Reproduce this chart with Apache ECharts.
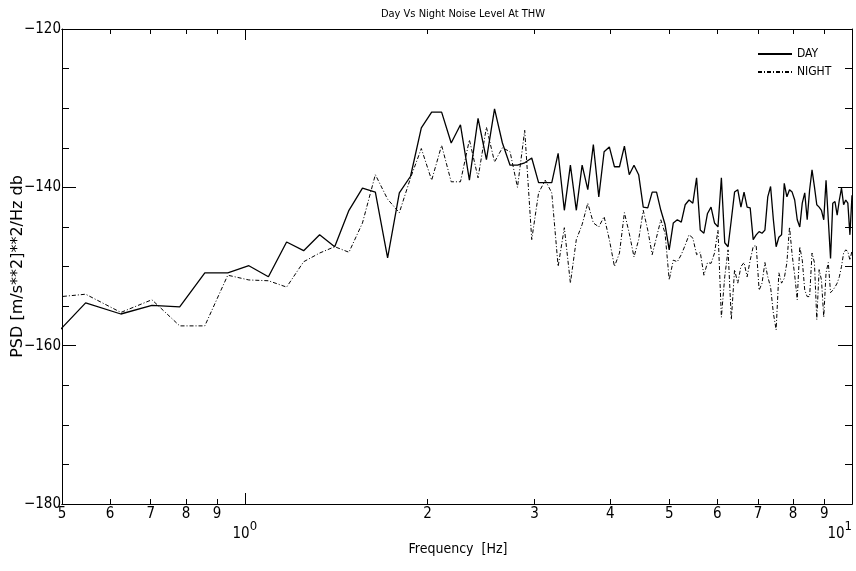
<!DOCTYPE html>
<html>
<head>
<meta charset="utf-8">
<script src="https://cdn.jsdelivr.net/npm/echarts@6/dist/echarts.min.js"></script>
<style>
  html, body { margin: 0; padding: 0; background: #fff; }
  #chart { width: 856px; height: 571px; }
</style>
</head>
<body>
<div id="chart"></div>
<script>
// spectrum bins: frequency = bin * binHz, first bin is 6
var binHz = 0.078125;
var firstBin = 6;

// PSD in dB, DAY
var dayDb = [
  -160.0, -154.6, -156.0, -154.9, -155.1, -150.8, -150.8, -149.9, -151.3, -146.9,
  -148.0, -146.0, -147.5, -142.9, -140.1, -140.6, -148.9, -140.7, -138.6, -132.5,
  -130.5, -130.5, -134.4, -132.1, -139.1, -131.3, -136.5, -130.1, -134.4, -137.2,
  -137.2, -136.9, -136.3, -139.4, -139.4, -139.4, -135.7, -142.9, -137.2, -142.9,
  -137.2, -140.3, -134.6, -141.2, -135.5, -134.9, -137.4, -137.4, -134.8, -138.4,
  -137.2, -138.4, -142.5, -142.6, -140.6, -140.6, -142.9, -144.7, -147.9, -144.5,
  -144.1, -144.4, -142.2, -141.6, -142.0, -138.8, -145.4, -145.8, -143.3, -142.5,
  -144.5, -145.0, -138.8, -147.0, -147.5, -144.1, -140.6, -140.3, -142.5, -140.6,
  -142.5, -142.6, -146.6, -146.0, -145.6, -145.8, -145.4, -141.2, -139.9, -144.1,
  -147.5, -146.3, -146.0, -139.5, -141.2, -140.3, -140.6, -141.6, -144.1, -145.0,
  -142.0, -140.7, -144.1, -140.3, -137.8, -139.9, -142.2, -142.5, -142.9, -144.1,
  -139.1, -144.1, -149.0, -142.0, -141.8, -143.5, -141.6, -140.1, -142.2, -141.6,
  -142.0, -146.0, -141.0
];

// PSD in dB, NIGHT
var nightDb = [
  -154.0, -153.5, -155.8, -154.2, -157.5, -157.5, -151.1, -151.7, -151.8, -152.6,
  -149.4, -148.3, -147.5, -148.2, -144.5, -138.4, -141.5, -143.2, -138.8, -135.1,
  -139.1, -134.7, -139.3, -139.3, -134.0, -138.8, -132.4, -136.8, -135.0, -135.5,
  -140.0, -132.8, -146.6, -140.7, -139.1, -140.7, -150.0, -145.1, -152.1, -146.6,
  -144.7, -142.0, -144.5, -145.0, -143.7, -146.6, -150.0, -148.3, -143.2, -145.8,
  -148.8, -146.6, -142.9, -145.4, -148.5, -146.3, -144.1, -145.8, -151.7, -149.2,
  -149.4, -148.5, -147.3, -146.0, -146.4, -148.5, -148.2, -151.1, -149.5, -149.6,
  -148.3, -145.4, -156.4, -151.3, -147.9, -156.7, -150.4, -152.1, -150.0, -149.5,
  -151.3, -149.2, -147.5, -147.3, -153.0, -152.1, -149.5, -151.3, -152.6, -155.9,
  -158.0, -150.8, -152.1, -151.5, -149.5, -145.0, -148.5, -151.1, -154.2, -147.5,
  -149.2, -153.0, -153.8, -153.8, -148.3, -149.5, -156.7, -150.4, -151.7, -156.4,
  -150.8, -149.5, -153.3, -153.0, -152.6, -152.1, -151.3, -150.0, -148.3, -147.9,
  -148.1, -149.2, -148.0
];

var minorTickHz = [0.5, 0.6, 0.7, 0.8, 0.9, 2, 3, 4, 5, 6, 7, 8, 9];
var decadeTickHz = [1, 10];
var xMinHz = 0.5, xMaxHz = 10;
var yMin = -180, yMax = -120, yStep = 20;

var font = "'DejaVu Sans Condensed', 'Liberation Sans Narrow', 'Liberation Sans', sans-serif";
var wideFont = "'DejaVu Sans', 'Liberation Sans', sans-serif";
var lg = Math.log10;

function toPoints(vals) {
  return vals.map(function (v, i) { return [lg((firstBin + i) * binHz), v]; });
}

function xAxisDef(pos, ticksHz, tickLen, withLabels, decade) {
  var vals = ticksHz.map(lg);
  return {
    type: 'value',
    position: pos,
    min: lg(xMinHz),
    max: lg(xMaxHz),
    axisLine: { onZero: false, lineStyle: { color: '#000', width: 1 } },
    splitLine: { show: false },
    axisTick: { inside: true, length: tickLen, customValues: vals, lineStyle: { color: '#000' } },
    axisLabel: {
      show: withLabels,
      customValues: vals,
      color: '#000',
      fontFamily: font,
      fontSize: 15,
      margin: decade ? 16 : 3,
      alignMaxLabel: decade ? 'right' : null,
      formatter: decade
        ? function (v) { return '{b|10}{s|' + Math.round(v) + '}'; }
        : function (v) { var f = Math.pow(10, v); return String(Math.round(f < 1 ? f * 10 : f)); },
      rich: {
        b: { fontFamily: font, fontSize: 15, color: '#000', verticalAlign: 'bottom' },
        s: { fontFamily: font, fontSize: 13, color: '#000', verticalAlign: 'top', padding: [0, 0, 9, 0] }
      }
    }
  };
}

function yAxisDef(pos, withLabels) {
  return {
    type: 'value',
    position: pos,
    min: yMin,
    max: yMax,
    interval: yStep,
    name: withLabels ? 'PSD [m/s**2]**2/Hz db' : '',
    nameLocation: 'middle',
    nameGap: 36,
    nameRotate: 90,
    nameMoveOverlap: false,
    nameTextStyle: { color: '#000', fontFamily: wideFont, fontSize: 16 },
    axisLine: { onZero: false, lineStyle: { color: '#000', width: 1 } },
    splitLine: { show: false },
    axisTick: { inside: true, length: 14, lineStyle: { color: '#000' } },
    minorTick: { show: true, splitNumber: 4, length: 7, lineStyle: { color: '#000' } },
    axisLabel: {
      show: withLabels,
      color: '#000',
      fontFamily: font,
      fontSize: 15,
      margin: 1,
      formatter: function (v) { return String(v).replace('-', '\u2212'); }
    }
  };
}

var chart = echarts.init(document.getElementById('chart'));
chart.setOption({
  animation: false,
  backgroundColor: '#fff',
  title: {
    text: 'Day Vs Night Noise Level At THW',
    left: 458,
    textAlign: 'center',
    top: 4,
    textStyle: { color: '#000', fontFamily: font, fontSize: 11, fontWeight: 'normal' }
  },
  legend: {
    data: ['DAY', 'NIGHT'],
    orient: 'vertical',
    left: 752,
    top: 43,
    itemWidth: 34,
    itemHeight: 10,
    itemGap: 6,
    itemStyle: { opacity: 0 },
    textStyle: { color: '#000', fontFamily: font, fontSize: 12 }
  },
  grid: { left: 62, right: 4, top: 29, bottom: 67, containLabel: false, outerBoundsMode: 'none' },
  xAxis: [
    xAxisDef('bottom', minorTickHz, 5, true, false),
    xAxisDef('bottom', decadeTickHz, 11, true, true),
    xAxisDef('top', minorTickHz, 5, false, false),
    xAxisDef('top', decadeTickHz, 11, false, true)
  ],
  yAxis: [yAxisDef('left', true), yAxisDef('right', false)],
  graphic: [{
    type: 'text',
    x: 458,
    y: 542,
    style: { text: 'Frequency  [Hz]', fill: '#000', font: '14px ' + font, textAlign: 'center' }
  }],
  series: [
    {
      name: 'DAY',
      type: 'line',
      symbol: 'none',
      xAxisIndex: 0,
      yAxisIndex: 0,
      data: toPoints(dayDb),
      lineStyle: { color: '#000', width: 1.3 },
      itemStyle: { color: '#000' }
    },
    {
      name: 'NIGHT',
      type: 'line',
      symbol: 'none',
      xAxisIndex: 0,
      yAxisIndex: 0,
      data: toPoints(nightDb),
      lineStyle: { color: '#000', width: 1, type: [4, 2, 1, 2] },
      itemStyle: { color: '#000' }
    }
  ]
});
</script>
</body>
</html>
